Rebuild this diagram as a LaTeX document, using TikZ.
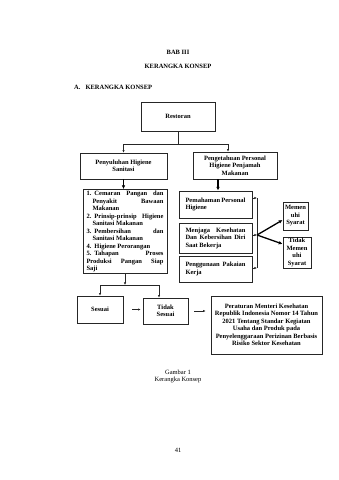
\documentclass[tikz,border=0pt]{standalone}
\usepackage{fontspec}
\setmainfont{Liberation Serif}
\usetikzlibrary{arrows.meta,positioning,calc}
\newcommand\boxfont{\fontsize{6.5}{7.5}\selectfont\bfseries}
\newcommand\pagefont{\fontsize{6.5}{7.5}\selectfont}
\tikzset{
  boxstyle/.style={draw=black!85,line width=0.8pt,fill=white,font=\boxfont,align=center,inner sep=1pt},
  listbox/.style={boxstyle,align=justify,inner xsep=3.5pt,inner ysep=1.5pt},
  sidebox/.style={boxstyle,align=justify,text width=60pt,inner xsep=6.5pt},
  arr/.style={-{Latex[length=2.6pt,width=2.4pt]},line width=0.6pt,draw=black!85},
  fatarr/.style={-{Latex[length=3.8pt,width=3.6pt]},line width=1.3pt,draw=black},
  ln/.style={line width=0.6pt,draw=black!85}
}

\begin{document}
\begin{tikzpicture}[x=1pt,y=-1pt]
  \path[use as bounding box,fill=white] (0,0) rectangle (339,480);
  % page heading
  \node[font=\boxfont,inner sep=0pt] (bab) at (178,52) {BAB III};
  \node[font=\boxfont,inner sep=0pt] (judul) at (178,66) {KERANGKA KONSEP};
  \node[font=\boxfont,inner sep=0pt,anchor=west] (sub) at (74,87) {A.\hspace{5pt}KERANGKA KONSEP};
  % top row
  \node[boxstyle,minimum width=74pt,minimum height=29pt] (rest) at (178,116.5) {Restoran};
  \node[boxstyle,minimum width=87pt,minimum height=26pt] (peny) at (123.5,166) {Penyuluhan Higiene\\Sanitasi};
  \node[boxstyle,minimum width=84pt,minimum height=27pt,inner ysep=0pt] (peng) at (235,165.5) {Pengetahuan Personal\\Higiene Penjamah\\Makanan};
  \coordinate (bus1) at (178,144);
  \draw[ln] (rest) -- (bus1);
  \draw[arr] (bus1) -| (peny.north);
  \draw[arr] (bus1) -| ([xshift=-7pt]peng.north);
  % materi
  \node[listbox,text width=77pt,minimum height=83pt] (list) at (125,231.5) {%
    \hangindent=6pt\hangafter=1\makebox[8pt][l]{1.}Cemaran Pangan dan\linebreak Penyakit Bawaan\linebreak Makanan\par
    \hangindent=6pt\hangafter=1\makebox[8pt][l]{2.}Prinsip-prinsip Higiene\linebreak Sanitasi Makanan\par
    \hangindent=6pt\hangafter=1\makebox[8pt][l]{3.}Pembersihan dan\linebreak Sanitasi Makanan\par
    \hangindent=6pt\hangafter=1\makebox[8pt][l]{4.}Higiene Perorangan\par
    \hangindent=6pt\hangafter=1\makebox[8pt][l]{5.}Tahapan Proses\linebreak Produksi Pangan Siap\linebreak Saji};
  \draw[fatarr] (peny.south) -- (peny.south |- list.north);
  % personal higiene
  \node[sidebox,minimum height=27pt] (pem) at (215.5,204.5) {Pemahaman Personal\linebreak Higiene};
  \node[sidebox,minimum height=30pt] (jaga) at (215.5,238) {Menjaga Kesehatan\linebreak Dan Kebersihan Diri\linebreak Saat Bekerja};
  \node[sidebox,minimum height=26pt] (guna) at (215.5,269) {Penggunaan Pakaian\linebreak Kerja};
  \draw[fatarr] ([xshift=-17pt]peng.south) -- ([xshift=-17pt]peng.south |- pem.north);
  \node[boxstyle,minimum width=25pt,minimum height=28pt] (mem) at (295.5,216) {Memen\\uhi\\Syarat};
  \node[boxstyle,minimum width=28pt,minimum height=31pt] (tdk) at (297,252.5) {Tidak\\Memen\\uhi\\Syarat};
  \coordinate (coltop) at (257,198);
  \coordinate (colmid) at (257,235);
  \coordinate (colbot) at (257,268);
  \draw[ln] (coltop) -- (colbot);
  \draw[arr] (pem.east |- coltop) -- (coltop);
  \draw[arr] (jaga.east |- colmid) -- (colmid);
  \draw[arr] (guna.east |- colbot) -- (colbot);
  \draw[fatarr] (colmid) -- ([yshift=-4pt]mem.west);
  \draw[fatarr] (colmid) -- ([yshift=8.5pt]tdk.west);
  % hasil
  \node[boxstyle,minimum width=46pt,minimum height=27pt] (ses) at (100,309.5) {Sesuai};
  \node[boxstyle,minimum width=45pt,minimum height=26pt] (tses) at (165.5,311) {Tidak\\Sesuai};
  \node[boxstyle,minimum width=111pt,minimum height=58pt] (per) at (266.5,325) {Peraturan Menteri Kesehatan\\Republik Indonesia Nomor 14 Tahun\\2021 Tentang Standar Kegiatan\\Usaha dan Produk pada\\Penyelenggaraan Perizinan Berbasis\\Risiko Sektor Kesehatan};
  \coordinate (bus2) at (125,285);
  \draw[arr] (list.south) -- (bus2);
  \draw[arr] (bus2) -| (ses.north);
  \draw[arr] (bus2) -| ([xshift=-6.5pt]tses.north);
  \draw[arr,line width=0.8pt,shorten <=9pt,shorten >=2pt] (ses.east) -- (ses.east -| tses.west);
  \draw[arr,line width=0.8pt,shorten <=6pt,shorten >=5pt] (tses.east) -- (tses.east -| per.west);
  % caption
  \node[font=\pagefont,align=center,inner sep=0pt] (gbr) at (178,376.5) {Gambar 1\\Kerangka Konsep};
  \node[font=\pagefont,inner sep=0pt] (hal) at (178,450) {41};
\end{tikzpicture}
\end{document}
